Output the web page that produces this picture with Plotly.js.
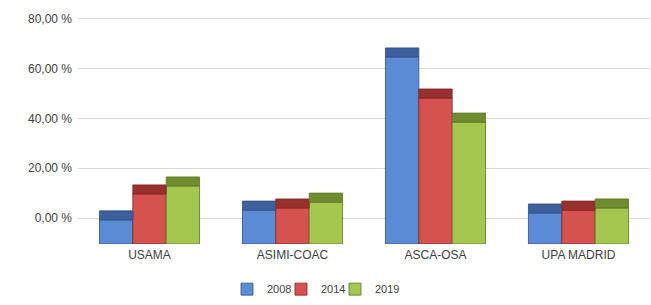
<!DOCTYPE html>
<html>
<head>
<meta charset="utf-8">
<script src="https://cdn.plot.ly/plotly-3.0.1.min.js"></script>
<style>html,body{margin:0;padding:0;background:#fff;}#chart{width:651px;height:305px;}</style>
</head>
<body>
<div id="chart"></div>
<script>
// ---- data ----
const categories = ["USAMA", "ASIMI-COAC", "ASCA-OSA", "UPA MADRID"];
const years = ["2008", "2014", "2019"];
const values2008 = [9.1, 12.8, 70.6, 11.7];
const values2014 = [18.9, 13.6, 55.1, 12.8];
const values2019 = [21.9, 15.8, 46.0, 13.6];
const tickValues = [0, 20, 40, 60, 80];
const tickLabels = ["0,00 %", "20,00 %", "40,00 %", "60,00 %", "80,00 %"];

// ---- style ----
const faceColors = ["#5b8bd5", "#d5524e", "#a4c84f"];
const capColors = ["#3d5f9c", "#98302d", "#6f8c2e"];
const edgeColors = ["#2f4f86", "#7e2624", "#5c7424"];
const CAP = 3.4; // visual depth of the top face (3D look)
const legendNames = ["legend", "legend2", "legend3"];
const legendX = [0.3487, 0.4316, 0.5146];

const series = [values2008, values2014, values2019];
const traces = [];
series.forEach((vals, i) => {
  traces.push({
    type: "bar", name: years[i], x: categories, y: vals,
    offsetgroup: "g" + i, legend: legendNames[i],
    marker: {color: faceColors[i], line: {color: edgeColors[i], width: 0.8}},
    hoverinfo: "skip"
  });
});
series.forEach((vals, i) => {
  traces.push({
    type: "bar", name: years[i] + " top", x: categories,
    y: vals.map(() => CAP), base: vals,
    offsetgroup: "g" + i, showlegend: false,
    marker: {color: capColors[i], line: {color: edgeColors[i], width: 0.8}},
    hoverinfo: "skip"
  });
});
// empty helper trace so the back-wall value axis (y2) is drawn
traces.push({
  type: "scatter", mode: "markers", x: categories, y: categories.map(() => null),
  yaxis: "y2", showlegend: false, hoverinfo: "skip"
});

const layout = {
  width: 651, height: 305,
  margin: {l: 78, r: 1, t: 10, b: 61},
  paper_bgcolor: "#ffffff", plot_bgcolor: "#ffffff",
  font: {family: "Liberation Sans, Arial, sans-serif", size: 12, color: "#404040"},
  barmode: "group", bargap: 0.3, bargroupgap: 0,
  showlegend: true,
  xaxis: {
    type: "category", range: [-0.5, 3.5],
    showgrid: false, zeroline: false, showline: false,
    ticks: "", tickfont: {size: 12, color: "#404040"}, ticklabelstandoff: 2
  },
  yaxis: {
    range: [0, 88.3],
    showgrid: false, zeroline: false, showline: false,
    showticklabels: false, ticks: ""
  },
  yaxis2: {
    overlaying: "y", side: "left", range: [-10.45, 83.6],
    tickvals: tickValues, ticktext: tickLabels,
    showgrid: true, gridcolor: "#d9d9d9", gridwidth: 1,
    zeroline: false, showline: false, ticks: "",
    tickfont: {size: 12, color: "#404040"}, ticklabelstandoff: 5
  }
};
legendNames.forEach((ln, i) => {
  layout[ln] = {
    orientation: "h", xref: "container", yref: "container",
    x: legendX[i], xanchor: "left", y: 0.052, yanchor: "middle",
    font: {size: 11, color: "#404040"}, itemwidth: 30,
    bgcolor: "rgba(0,0,0,0)"
  };
});

Plotly.newPlot("chart", traces, layout, {displayModeBar: false, staticPlot: true});
</script>
</body>
</html>
